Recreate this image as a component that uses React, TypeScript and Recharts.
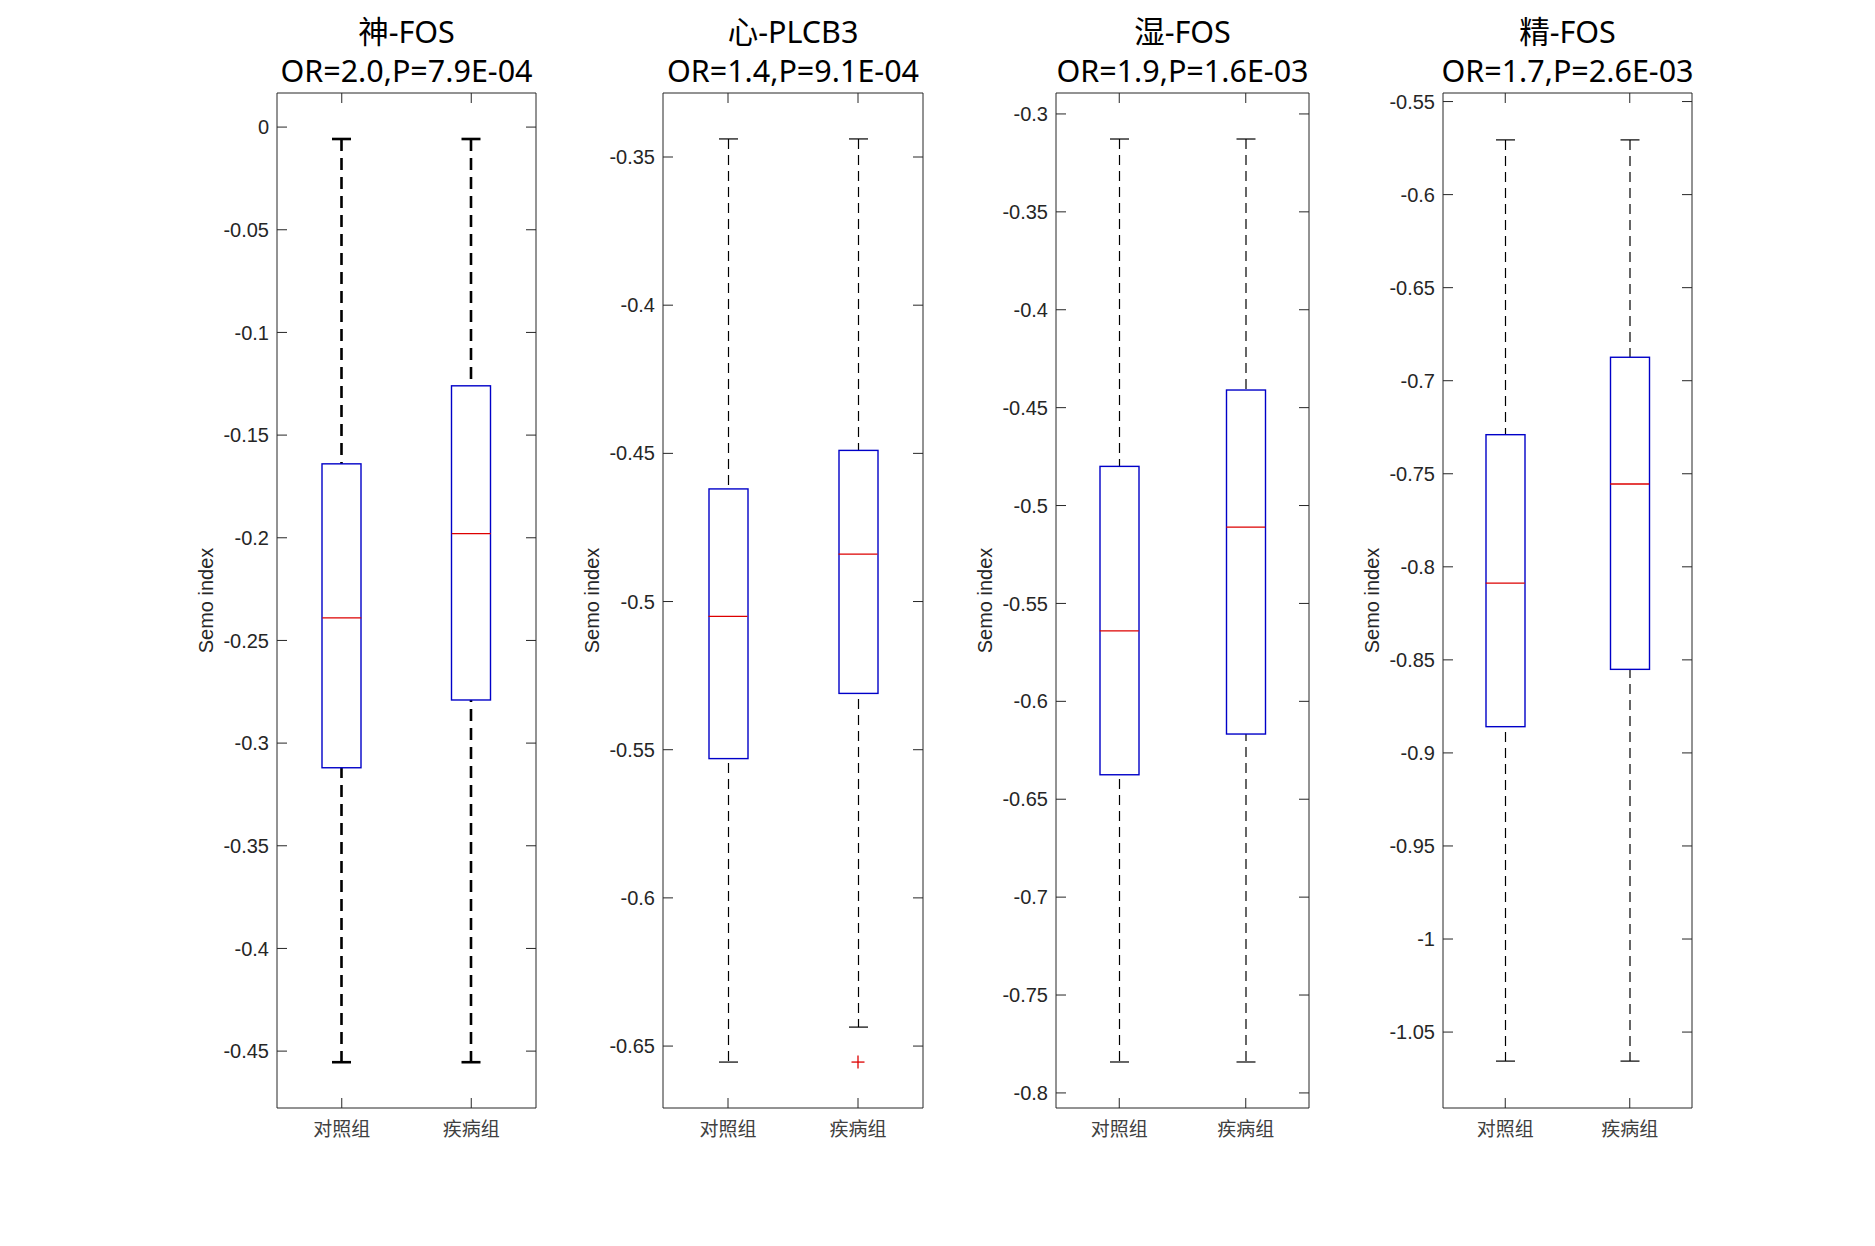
import React from 'react';
import { ComposedChart, Bar, Scatter, XAxis, YAxis } from 'recharts';

// groups on the x axis of every panel
const groups = ['对照组', '疾病组'];

// panel titles
const panelGenes = ['神-FOS', '心-PLCB3', '湿-FOS', '精-FOS'];
const panelStats = ['OR=2.0,P=7.9E-04', 'OR=1.4,P=9.1E-04', 'OR=1.9,P=1.6E-03', 'OR=1.7,P=2.6E-03'];

// box statistics, one row per panel, [对照组, 疾病组]
const whiskerHigh = [
  [-0.0058, -0.0058],
  [-0.3439, -0.3439],
  [-0.3128, -0.3128],
  [-0.5706, -0.5706],
];
const q3 = [
  [-0.164, -0.126],
  [-0.462, -0.449],
  [-0.48, -0.441],
  [-0.729, -0.6874],
];
const medians = [
  [-0.239, -0.198],
  [-0.505, -0.484],
  [-0.564, -0.511],
  [-0.8088, -0.7555],
];
const q1 = [
  [-0.312, -0.279],
  [-0.553, -0.531],
  [-0.6375, -0.6167],
  [-0.8859, -0.8551],
];
const whiskerLow = [
  [-0.4554, -0.4554],
  [-0.6554, -0.6436],
  [-0.7842, -0.7842],
  [-1.0656, -1.0656],
];
const outliers: (number | null)[][] = [
  [null, null],
  [null, -0.6554],
  [null, null],
  [null, null],
];

// y axes
const yDomains = [
  [-0.4777, 0.0166],
  [-0.6709, -0.3284],
  [-0.8077, -0.2893],
  [-1.0908, -0.5454],
];
const yTicks = [
  [0, -0.05, -0.1, -0.15, -0.2, -0.25, -0.3, -0.35, -0.4, -0.45],
  [-0.35, -0.4, -0.45, -0.5, -0.55, -0.6, -0.65],
  [-0.3, -0.35, -0.4, -0.45, -0.5, -0.55, -0.6, -0.65, -0.7, -0.75, -0.8],
  [-0.55, -0.6, -0.65, -0.7, -0.75, -0.8, -0.85, -0.9, -0.95, -1, -1.05],
];

// layout
const plotLeft = [277, 663, 1056, 1443];
const plotRight = [536, 923, 1309, 1692];
const PAGE_W = 1875;
const PAGE_H = 1246;
const PLOT_TOP = 93;
const PLOT_BOTTOM = 1108;
const Y_AXIS_W = 120;
const X_AXIS_H = 40;
const BOX_W = 39;
const CAP_W = 19;

const FRAME = '#262626';
const BOX_BLUE = '#0000c8';
const MEDIAN_RED = '#dd0000';
const TICK_FONT = '"Liberation Sans", Arial, sans-serif';
const CJK_FONT = '"Noto Sans CJK SC", sans-serif';
const TITLE_FONT = '"Noto Sans", "Noto Sans CJK SC", sans-serif';

// the first panel was exported with heavier whiskers
const whiskerStyle = [
  { width: 2.6, dash: '12 7' },
  { width: 1.2, dash: '10 6' },
  { width: 1.2, dash: '10 6' },
  { width: 1.2, dash: '10 6' },
];

type Row = {
  name: string;
  whisker: [number, number];
  box: [number, number];
  med: number;
  out: number | null;
};

function rowsFor(i: number): Row[] {
  return groups.map((name, j) => ({
    name,
    whisker: [whiskerLow[i][j], whiskerHigh[i][j]],
    box: [q1[i][j], q3[i][j]],
    med: medians[i][j],
    out: outliers[i][j],
  }));
}

const whiskerShape = (sw: number, dash: string) => (p: any) => {
  const cx = p.x + p.width / 2;
  const top = Math.min(p.y, p.y + p.height);
  const bot = Math.max(p.y, p.y + p.height);
  return (
    <g>
      <line x1={cx} x2={cx} y1={top} y2={bot} stroke="#000" strokeWidth={sw} strokeDasharray={dash} />
      <line x1={cx - CAP_W / 2} x2={cx + CAP_W / 2} y1={top} y2={top} stroke="#000" strokeWidth={sw} />
      <line x1={cx - CAP_W / 2} x2={cx + CAP_W / 2} y1={bot} y2={bot} stroke="#000" strokeWidth={sw} />
    </g>
  );
};

const boxShape = (p: any) => {
  const top = Math.min(p.y, p.y + p.height);
  const h = Math.abs(p.height);
  return <rect x={p.x} y={top} width={p.width} height={h} fill="#fff" stroke={BOX_BLUE} strokeWidth={1.4} />;
};

const medianShape = (p: any) => (
  <line x1={p.cx - BOX_W / 2} x2={p.cx + BOX_W / 2} y1={p.cy} y2={p.cy} stroke={MEDIAN_RED} strokeWidth={1.3} />
);

const outlierShape = (p: any) => {
  if (p.payload == null || p.payload.out == null) return <g />;
  return (
    <g stroke={MEDIAN_RED} strokeWidth={1.3}>
      <line x1={p.cx - 6.5} x2={p.cx + 6.5} y1={p.cy} y2={p.cy} />
      <line x1={p.cx} x2={p.cx} y1={p.cy - 6.5} y2={p.cy + 6.5} />
    </g>
  );
};

// top/right axes only carry inward tick marks, no labels
const noLabel = () => <g />;

function Panel({ i }: { i: number }) {
  const plotW = plotRight[i] - plotLeft[i];
  const width = plotW + Y_AXIS_W + 10;
  const center = (plotLeft[i] + plotRight[i]) / 2;
  const ws = whiskerStyle[i];
  const data = rowsFor(i);

  return (
    <>
      <div
        style={{
          position: 'absolute',
          left: center - 200,
          width: 400,
          top: 12,
          textAlign: 'center',
          fontFamily: TITLE_FONT,
          fontSize: 30.5,
          lineHeight: '39px',
          color: '#000',
          whiteSpace: 'nowrap',
        }}
      >
        <div>{panelGenes[i]}</div>
        <div>{panelStats[i]}</div>
      </div>
      <div style={{ position: 'absolute', left: plotLeft[i] - Y_AXIS_W, top: 0 }}>
        <ComposedChart
          width={width}
          height={PAGE_H}
          data={data}
          margin={{ top: PLOT_TOP - 1, right: 9, bottom: PAGE_H - PLOT_BOTTOM - X_AXIS_H, left: 0 }}
          barSize={BOX_W}
          barGap={-BOX_W}
        >
          <XAxis
            dataKey="name"
            type="category"
            height={X_AXIS_H}
            interval={0}
            tickSize={-10}
            tickMargin={25}
            axisLine={{ stroke: FRAME }}
            tickLine={{ stroke: FRAME }}
            tick={{ fill: '#404040', fontSize: 19, fontFamily: CJK_FONT }}
          />
          <XAxis
            xAxisId="top"
            dataKey="name"
            type="category"
            orientation="top"
            height={1}
            interval={0}
            tick={noLabel}
            tickSize={-10}
            axisLine={{ stroke: FRAME }}
            tickLine={{ stroke: FRAME }}
          />
          <YAxis
            type="number"
            domain={yDomains[i]}
            ticks={yTicks[i]}
            allowDataOverflow
            interval={0}
            width={Y_AXIS_W}
            tickSize={-10}
            tickMargin={18}
            axisLine={{ stroke: FRAME }}
            tickLine={{ stroke: FRAME }}
            tick={{ fill: FRAME, fontSize: 20, fontFamily: TICK_FONT }}
            tickFormatter={(v: number) => String(v)}
            label={{
              value: 'Semo index',
              angle: -90,
              position: 'insideLeft',
              offset: 49,
              style: { textAnchor: 'middle', fill: FRAME, fontSize: 20, fontFamily: TICK_FONT },
            }}
          />
          <YAxis
            yAxisId="right"
            orientation="right"
            type="number"
            domain={yDomains[i]}
            ticks={yTicks[i]}
            allowDataOverflow
            interval={0}
            width={1}
            tick={noLabel}
            tickSize={-10}
            axisLine={{ stroke: FRAME }}
            tickLine={{ stroke: FRAME }}
          />
          <Bar dataKey="whisker" shape={whiskerShape(ws.width, ws.dash)} isAnimationActive={false} />
          <Bar dataKey="box" shape={boxShape} isAnimationActive={false} />
          <Scatter dataKey="med" shape={medianShape} isAnimationActive={false} />
          <Scatter dataKey="out" shape={outlierShape} isAnimationActive={false} />
        </ComposedChart>
      </div>
    </>
  );
}

export default function App() {
  return (
    <div
      style={{
        position: 'absolute',
        left: 0,
        top: 0,
        width: PAGE_W,
        height: PAGE_H,
        background: '#fff',
        overflow: 'hidden',
      }}
    >
      {panelGenes.map((_, i) => (
        <Panel key={i} i={i} />
      ))}
    </div>
  );
}
